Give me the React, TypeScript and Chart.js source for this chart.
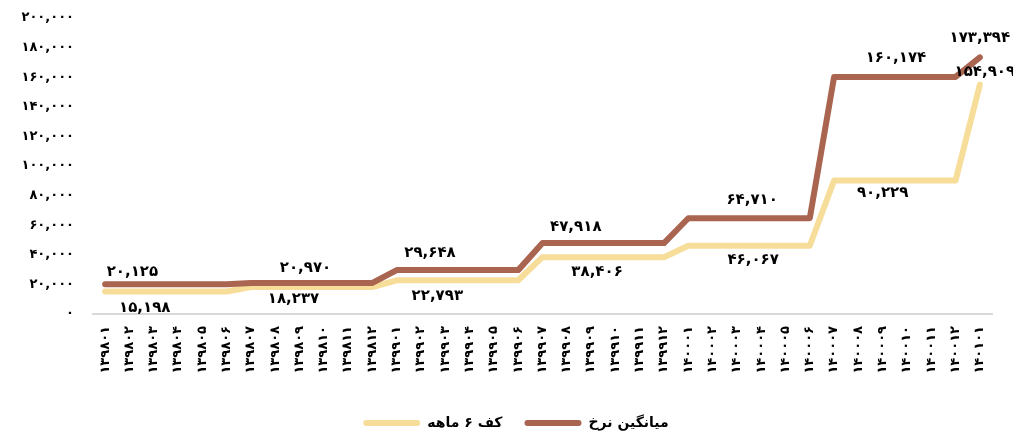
import React, { useEffect, useRef } from 'react';
import { Chart, registerables } from 'chart.js';

Chart.register(...registerables);

// ---- data ----
const categories: string[] = [
  '۱۳۹۸۰۱', '۱۳۹۸۰۲', '۱۳۹۸۰۳', '۱۳۹۸۰۴', '۱۳۹۸۰۵', '۱۳۹۸۰۶',
  '۱۳۹۸۰۷', '۱۳۹۸۰۸', '۱۳۹۸۰۹', '۱۳۹۸۱۰', '۱۳۹۸۱۱', '۱۳۹۸۱۲',
  '۱۳۹۹۰۱', '۱۳۹۹۰۲', '۱۳۹۹۰۳', '۱۳۹۹۰۴', '۱۳۹۹۰۵', '۱۳۹۹۰۶',
  '۱۳۹۹۰۷', '۱۳۹۹۰۸', '۱۳۹۹۰۹', '۱۳۹۹۱۰', '۱۳۹۹۱۱', '۱۳۹۹۱۲',
  '۱۴۰۰۰۱', '۱۴۰۰۰۲', '۱۴۰۰۰۳', '۱۴۰۰۰۴', '۱۴۰۰۰۵', '۱۴۰۰۰۶',
  '۱۴۰۰۰۷', '۱۴۰۰۰۸', '۱۴۰۰۰۹', '۱۴۰۰۱۰', '۱۴۰۰۱۱', '۱۴۰۰۱۲',
  '۱۴۰۱۰۱',
];

const avgRate: number[] = [
  20125, 20125, 20125, 20125, 20125, 20125,
  20970, 20970, 20970, 20970, 20970, 20970,
  29648, 29648, 29648, 29648, 29648, 29648,
  47918, 47918, 47918, 47918, 47918, 47918,
  64710, 64710, 64710, 64710, 64710, 64710,
  160174, 160174, 160174, 160174, 160174, 160174,
  173394,
];

const floor6m: number[] = [
  15198, 15198, 15198, 15198, 15198, 15198,
  18237, 18237, 18237, 18237, 18237, 18237,
  22793, 22793, 22793, 22793, 22793, 22793,
  38406, 38406, 38406, 38406, 38406, 38406,
  46067, 46067, 46067, 46067, 46067, 46067,
  90229, 90229, 90229, 90229, 90229, 90229,
  154909,
];

// which points carry a value label
const avgLabelIdx: number[] = [1, 8, 13, 19, 27, 33, 36];
const floorLabelIdx: number[] = [2, 8, 14, 20, 27, 32, 36];

const seriesNames: string[] = ['میانگین نرخ', 'کف ۶ ماهه'];

const yMin = 0;
const yMax = 200000;
const yStep = 20000;

// ---- helpers ----
const FA_DIGITS = '۰۱۲۳۴۵۶۷۸۹';
function toFa(n: number): string {
  return Math.round(n)
    .toLocaleString('en-US')
    .replace(/[0-9]/g, (d) => FA_DIGITS[Number(d)]);
}

const FONT = '"DejaVu Sans", "Noto Sans", sans-serif';

const valueLabelsPlugin = {
  id: 'valueLabels',
  afterLayout(chart: any) {
    // let the y tick labels use the space left of the axis box (no clipping)
    const y = chart.scales.y;
    if (y) y.left = 0;
  },
  afterDatasetsDraw(chart: any) {
    const ctx = chart.ctx;
    ctx.save();
    ctx.font = `bold 15px ${FONT}`;
    ctx.fillStyle = '#000';
    ctx.textAlign = 'center';
    ctx.textBaseline = 'middle';
    chart.data.datasets.forEach((ds: any, di: number) => {
      const cfg = ds.valueLabels;
      if (!cfg) return;
      const meta = chart.getDatasetMeta(di);
      cfg.indices.forEach((idx: number, k: number) => {
        const pt = meta.data[idx];
        if (!pt) return;
        ctx.fillText(toFa(ds.data[idx]), pt.x + cfg.dx[k], pt.y + cfg.dy[k]);
      });
    });
    ctx.restore();
  },
};

export default function App() {
  const canvasRef = useRef<HTMLCanvasElement | null>(null);

  useEffect(() => {
    document.body.style.margin = '0';
    const canvas = canvasRef.current;
    if (!canvas) return;
    const brown = '#a9654f';
    const yellow = '#f7dd9a';
    const chart = new Chart(canvas, {
      type: 'line',
      data: {
        labels: categories,
        datasets: [
          {
            label: seriesNames[0],
            data: avgRate,
            borderColor: brown,
            backgroundColor: brown,
            borderWidth: 6,
            pointRadius: 0,
            tension: 0,
            borderJoinStyle: 'round',
            borderCapStyle: 'round',
            valueLabels: {
              indices: avgLabelIdx,
              dx: [3, 6, 9, 9, -9, -11, 0],
              dy: [-12, -15, -17, -16, -18, -19, -19],
            },
          } as any,
          {
            label: seriesNames[1],
            data: floor6m,
            borderColor: yellow,
            backgroundColor: yellow,
            borderWidth: 6,
            pointRadius: 0,
            tension: 0,
            borderJoinStyle: 'round',
            borderCapStyle: 'round',
            valueLabels: {
              indices: floorLabelIdx,
              dx: [-9, -6, -8, 6, -8, 0, 5],
              dy: [17, 12, 16, 15, 14, 13, -13],
            },
          } as any,
        ],
      },
      options: {
        responsive: false,
        animation: false,
        layout: { padding: { top: 18, right: 21, left: 40, bottom: 0 } },
        plugins: {
          tooltip: { enabled: false },
          legend: {
            position: 'bottom',
            reverse: true,
            labels: {
              boxWidth: 57,
              boxHeight: 6,
              useBorderRadius: true,
              borderRadius: 3,
              padding: 22,
              color: '#000',
              font: { family: FONT, size: 14, weight: 'bold' },
              generateLabels: (c: any) =>
                Chart.defaults.plugins.legend.labels
                  .generateLabels(c)
                  .map((l: any) => ({ ...l, lineWidth: 0 })),
            },
          },
        },
        scales: {
          x: {
            offset: true,
            grid: { display: false, drawTicks: false },
            border: { display: true, color: '#d9d9d9', width: 2 },
            afterFit: (s: any) => {
              s.height = 80;
            },
            ticks: {
              autoSkip: false,
              maxRotation: 90,
              minRotation: 90,
              padding: 12,
              color: '#000',
              font: { family: FONT, size: 13, weight: 'bold' },
            },
          },
          y: {
            min: yMin,
            max: yMax,
            grid: { display: false, drawTicks: false },
            border: { display: false },
            afterFit: (s: any) => {
              s.width = 53;
              s.paddingTop = 7;
              s.paddingBottom = 7;
            },
            ticks: {
              stepSize: yStep,
              padding: 19,
              color: '#000',
              font: { family: FONT, size: 13, weight: 'bold' },
              callback: (v: any) => toFa(Number(v)),
            },
          },
        },
      } as any,
      plugins: [valueLabelsPlugin],
    });
    return () => chart.destroy();
  }, []);

  return (
    <div style={{ width: 1013, height: 440, position: 'relative' }}>
      <canvas ref={canvasRef} width={1013} height={440} style={{ display: 'block' }} />
    </div>
  );
}
